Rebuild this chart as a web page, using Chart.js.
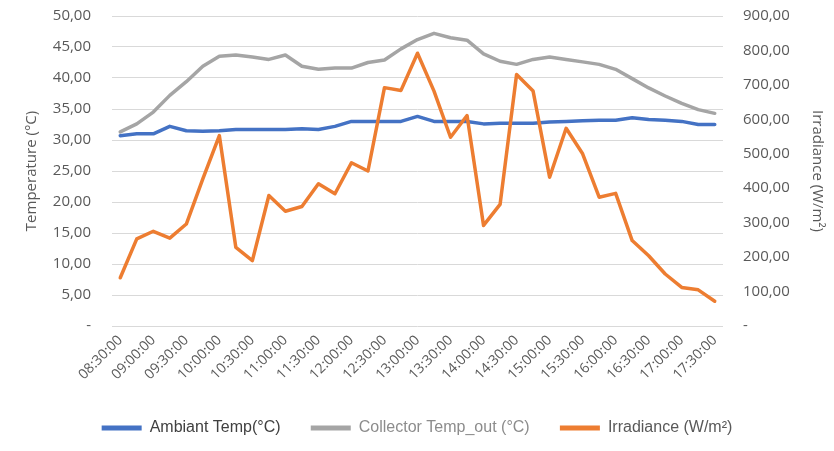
<!DOCTYPE html>
<html>
<head>
<meta charset="utf-8">
<script src="https://cdn.jsdelivr.net/npm/chart.js@4.4.1/dist/chart.umd.min.js"></script>
<style>
  html, body { margin: 0; padding: 0; background: #fff; }
  canvas { display: block; }
</style>
</head>
<body>
<canvas id="solarChart" width="834" height="451"></canvas>
<script>
// time of measurement, every 15 minutes
const times = ['08:30:00','08:45:00','09:00:00','09:15:00','09:30:00','09:45:00','10:00:00','10:15:00',
  '10:30:00','10:45:00','11:00:00','11:15:00','11:30:00','11:45:00','12:00:00','12:15:00','12:30:00',
  '12:45:00','13:00:00','13:15:00','13:30:00','13:45:00','14:00:00','14:15:00','14:30:00','14:45:00',
  '15:00:00','15:15:00','15:30:00','15:45:00','16:00:00','16:15:00','16:30:00','16:45:00','17:00:00',
  '17:15:00','17:30:00'];

const ambiantTemp = [30.7,31.0,31.0,32.2,31.5,31.4,31.5,31.7,31.7,31.7,31.7,31.8,31.7,32.2,33.0,33.0,33.0,
  33.0,33.8,33.0,33.0,33.0,32.6,32.7,32.7,32.7,32.9,33.0,33.1,33.2,33.2,33.6,33.3,33.2,33.0,32.5,32.5];

const collectorTemp = [31.3,32.6,34.5,37.2,39.4,41.9,43.5,43.7,43.4,43.0,43.7,41.9,41.4,41.6,41.6,42.5,42.9,
  44.7,46.2,47.2,46.5,46.1,43.9,42.7,42.2,43.0,43.4,43.0,42.6,42.2,41.4,39.9,38.4,37.1,35.9,34.9,34.3];

const irradiance = [140,253,275,255,296,427,553,228,190,379,333,347,413,384,474,450,692,684,792,682,548,611,
  292,353,730,682,432,574,500,374,385,248,204,151,112,105,72];

const seriesNames = ['Ambiant Temp(°C)', 'Collector Temp_out (°C)', 'Irradiance (W/m²)'];
const legendTextColors = ['#404040', '#8c8c8c', '#595959'];

// excel style number: 35,00 and "-" for zero
function fmt(v) {
  if (v === 0) return '-';
  return v.toFixed(2).replace('.', ',');
}

const tickFont = { family: 'Open Sans', size: 15 };

// fixed axis width, and no extra top/bottom padding from the tick padding
function fixY(width) {
  return (s) => {
    s.width = width;
    s.paddingTop = 0;
    s.paddingBottom = 0;
  };
}

const ctx = document.getElementById('solarChart').getContext('2d');

new Chart(ctx, {
  type: 'line',
  data: {
    labels: times,
    datasets: [
      { label: seriesNames[0], data: ambiantTemp, yAxisID: 'y', borderColor: '#4472C4', backgroundColor: '#4472C4', order: 2 },
      { label: seriesNames[1], data: collectorTemp, yAxisID: 'y', borderColor: '#A5A5A5', backgroundColor: '#A5A5A5', order: 1 },
      { label: seriesNames[2], data: irradiance, yAxisID: 'y1', borderColor: '#ED7D31', backgroundColor: '#ED7D31', order: 0 }
    ]
  },
  options: {
    responsive: false,
    animation: false,
    elements: {
      point: { radius: 0 },
      line: { borderWidth: 3.5, tension: 0, borderCapStyle: 'round', borderJoinStyle: 'round' }
    },
    layout: { padding: { top: 16, left: 0, right: 0, bottom: 5 } },
    plugins: {
      tooltip: { enabled: false },
      legend: {
        position: 'bottom',
        labels: {
          boxWidth: 40,
          boxHeight: 5,
          padding: 8,
          font: { family: 'Liberation Sans', size: 16 },
          color: '#595959',
          sort: (a, b) => a.datasetIndex - b.datasetIndex,
          generateLabels: (chart) => {
            const items = Chart.defaults.plugins.legend.labels.generateLabels(chart);
            items.forEach(it => {
              it.lineWidth = 0;
              it.fontColor = legendTextColors[it.datasetIndex];
              // a little extra room between the entries
              if (it.datasetIndex < 2) it.text = it.text + '     ';
            });
            return items;
          }
        }
      }
    },
    scales: {
      x: {
        offset: true,
        grid: { display: false, drawTicks: false },
        border: { display: false },
        ticks: {
          autoSkip: false,
          minRotation: 45,
          maxRotation: 45,
          padding: 6,
          color: '#595959',
          font: { family: 'Open Sans', size: 14 },
          callback: function(val, i) { return i % 2 === 0 ? times[i] : ''; }
        },
        afterFit: (s) => { s.height = 86; }
      },
      y: {
        position: 'left',
        min: 0,
        max: 50,
        grid: { color: '#d9d9d9', lineWidth: 1, drawTicks: false },
        border: { display: false },
        ticks: { stepSize: 5, padding: 21, color: '#595959', font: tickFont, callback: (v) => fmt(v) },
        title: { display: true, text: 'Temperature (°C)', color: '#595959', font: tickFont, padding: { top: 23, bottom: 0 } },
        afterFit: fixY(112)
      },
      y1: {
        position: 'right',
        min: 0,
        max: 900,
        grid: { display: false, drawTicks: false },
        border: { display: false },
        ticks: { stepSize: 100, padding: 20, color: '#595959', font: tickFont, callback: (v) => fmt(v) },
        title: { display: true, text: 'Irradiance (W/m²)', color: '#595959', font: tickFont, padding: { top: 8, bottom: 0 } },
        afterFit: fixY(111)
      }
    }
  }
});
</script>
</body>
</html>
